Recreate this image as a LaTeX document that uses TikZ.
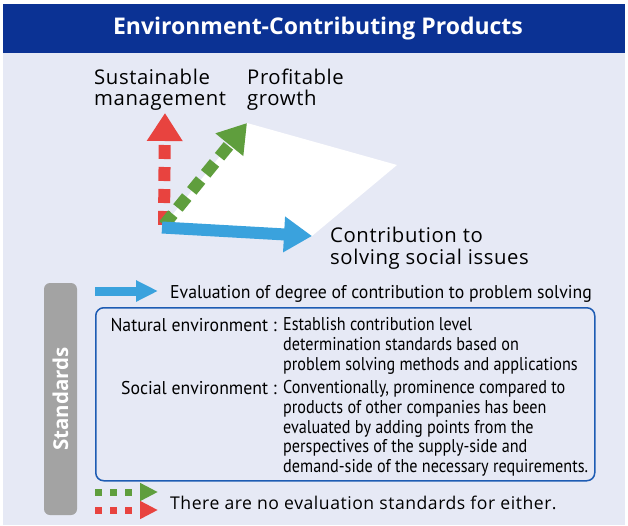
\documentclass[tikz,border=0pt]{standalone}
\usepackage{fontspec}
\setmainfont{Open Sans}
\newfontfamily\labelfont[LetterSpace=3]{Open Sans}
\newfontfamily\narrowfont[FakeStretch=0.96]{PT Sans}
\newfontfamily\descfont[FakeStretch=0.875]{PT Sans}
\usetikzlibrary{arrows.meta}
\definecolor{titleblue}{HTML}{0B3294}
\definecolor{panelbg}{HTML}{E6E9F5}
\definecolor{sustred}{HTML}{E8433F}
\definecolor{growgreen}{HTML}{5F9E3D}
\definecolor{contblue}{HTML}{3AA2DD}
\definecolor{stdgray}{HTML}{A3A3A3}
\definecolor{boxblue}{HTML}{1E5CB3}
\begin{document}
\begin{tikzpicture}[x=1pt,y=-1pt,
  axislabel/.style={align=left,inner sep=0pt,anchor=north west,font=\labelfont\fontsize{20.3}{21.5}\selectfont},
  boxtext/.style={align=left,inner sep=0pt,font=\narrowfont\fontsize{18.5}{19.7}\selectfont},
  desctext/.style={boxtext,anchor=north west,font=\descfont\fontsize{18.5}{19.7}\selectfont},
  bigarrow/.style={line width=12pt,-{Triangle[width=34pt,length=28pt]}},
  dashedarrow/.style={bigarrow,dash pattern=on 14pt off 8pt},
  legendarrow/.style={line width=7pt,dash pattern=on 7pt off 8pt,-{Triangle[width=17pt,length=18pt]}}]
\useasboundingbox (0,0) rectangle (628,525);
% panel and title bar
\fill[panelbg] (3,53) rectangle (625,525);
\fill[titleblue] (3,4) rectangle (625,53);
\node[text=white,font=\bfseries\fontsize{23}{23}\selectfont] (title) at (318,29) {Environment-Contributing Products};

% three axes
\coordinate (O) at (164,225);
\coordinate (tipS) at (165,113);
\coordinate (tipG) at (247,123);
\coordinate (tipC) at (312,236);
\coordinate (far) at (397,165);
\fill[white] (O) -- (tipG) -- (far) -- (tipC) -- cycle;
\draw[dashedarrow,sustred] (O) -- (tipS);
\draw[dashedarrow,growgreen] (O) -- (tipG);
\draw[bigarrow,contblue] (162,227.5) -- (tipC);
\node[axislabel] (sust) at (94,68.5) {Sustainable\\management};
\node[axislabel] (grow) at (247,68.5) {Profitable\\growth};
\node[axislabel] (cont) at (330,227) {Contribution to\\solving social issues};

% standards
\node[fill=stdgray,rounded corners=6pt,minimum width=232pt,minimum height=33pt,rotate=90,text=white,font=\bfseries\fontsize{20.5}{20.5}\selectfont] (std) at (60.5,399) {Standards};
\coordinate (evalA) at (95,291);
\coordinate (evalB) at (158,291);
\draw[contblue,line width=9pt,-{Triangle[width=20pt,length=22pt]}] (evalA) -- (evalB);
\node[boxtext,anchor=base west] (eval) at (170,298) {Evaluation of degree of contribution to problem solving};
\node[draw=boxblue,line width=1.5pt,rounded corners=8pt,minimum width=499pt,minimum height=173pt,anchor=north west] (stdbox) at (95,307) {};
\node[boxtext,anchor=base east] (natlbl) at (277,331) {Natural environment :};
\node[desctext] (natdesc) at (283,317.5) {Establish contribution level\\determination standards based on\\problem solving methods and applications};
\node[boxtext,anchor=base east] (soclbl) at (277,394) {Social environment :};
\node[desctext] (socdesc) at (283,380.5) {Conventionally, prominence compared to\\products of other companies has been\\evaluated by adding points from the\\perspectives of the supply-side and\\demand-side of the necessary requirements.};

% no standards legend
\coordinate (gA) at (95,492);
\coordinate (gB) at (158,492);
\coordinate (rA) at (95,510);
\coordinate (rB) at (158,510);
\draw[legendarrow,growgreen] (gA) -- (gB);
\draw[legendarrow,sustred] (rA) -- (rB);
\node[anchor=west,inner sep=0pt,font=\labelfont\fontsize{17.6}{17.6}\selectfont] (none) at (170,503) {There are no evaluation standards for either.};
\end{tikzpicture}
\end{document}
